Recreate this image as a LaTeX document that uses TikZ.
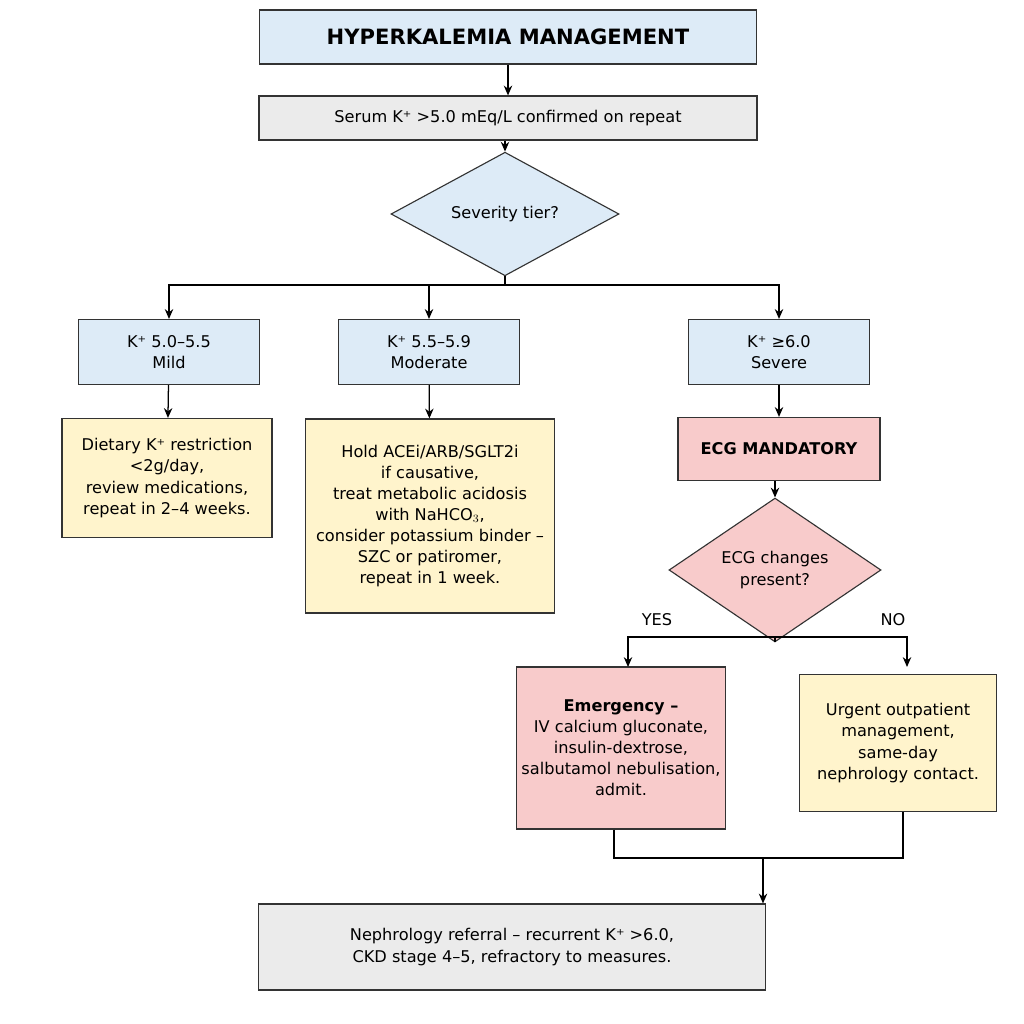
\documentclass[tikz,border=0pt]{standalone}
\usepackage{fontspec}
\setmainfont{DejaVu Sans}
\usetikzlibrary{shapes.geometric,arrows.meta}
\definecolor{bl}{HTML}{DDEBF7}
\definecolor{gr}{HTML}{EBEBEB}
\definecolor{ye}{HTML}{FFF4CC}
\definecolor{pk}{HTML}{F8CBCB}
\begin{document}
\begin{tikzpicture}[x=0.025cm,y=-0.025cm,
 box/.style={draw=black!80,line width=0.8pt,align=center,inner sep=0pt,font=\fontsize{11.5pt}{15pt}\selectfont},
 dia/.style={draw=black!80,line width=0.8pt,diamond,align=center,inner sep=0pt,font=\fontsize{11.5pt}{15pt}\selectfont},
 ar/.style={-{Stealth[length=7pt,width=6pt]},line width=0.9pt},
 ln/.style={line width=0.9pt}]
\useasboundingbox (0,0) rectangle (1024,1024);
\node[box,fill=bl,minimum width=497*0.025cm,minimum height=54*0.025cm,font=\fontsize{15pt}{18pt}\selectfont\bfseries] (t) at (508,37) {HYPERKALEMIA MANAGEMENT};
\node[box,fill=gr,minimum width=498*0.025cm,minimum height=44*0.025cm] (s) at (508,118) {Serum K⁺ >5.0 mEq/L confirmed on repeat};
\node[dia,fill=bl,minimum width=228*0.025cm,minimum height=94*0.025cm] (d) at (505,214) {Severity tier?};
\node[box,fill=bl,minimum width=181*0.025cm,minimum height=65*0.025cm] (mi) at (169,352) {K⁺ 5.0–5.5\\Mild};
\node[box,fill=bl,minimum width=181*0.025cm,minimum height=65*0.025cm] (mo) at (429,352) {K⁺ 5.5–5.9\\Moderate};
\node[box,fill=bl,minimum width=181*0.025cm,minimum height=65*0.025cm] (se) at (779,352) {K⁺ ≥6.0\\Severe};
\node[box,fill=ye,minimum width=210*0.025cm,minimum height=119*0.025cm] (mit) at (167,478) {Dietary K⁺ restriction\\<2g/day,\\review medications,\\repeat in 2–4 weeks.};
\node[box,fill=ye,minimum width=249*0.025cm,minimum height=194*0.025cm] (mot) at (430,516) {Hold ACEi/ARB/SGLT2i\\if causative,\\treat metabolic acidosis\\with NaHCO$_3$,\\consider potassium binder –\\SZC or patiromer,\\repeat in 1 week.};
\node[box,fill=pk,minimum width=202*0.025cm,minimum height=63*0.025cm,font=\fontsize{11.5pt}{15pt}\selectfont\bfseries] (ecg) at (779,449) {ECG MANDATORY};
\node[dia,fill=pk,minimum width=212*0.025cm,minimum height=110*0.025cm] (d2) at (775,570) {ECG changes\\present?};
\node[box,fill=pk,minimum width=209*0.025cm,minimum height=162*0.025cm] (em) at (621,748) {\textbf{Emergency –}\\IV calcium gluconate,\\insulin-dextrose,\\salbutamol nebulisation,\\admit.};
\node[box,fill=ye,minimum width=197*0.025cm,minimum height=137*0.025cm] (ur) at (898,743) {Urgent outpatient\\management,\\same-day\\nephrology contact.};
\node[box,fill=gr,minimum width=507*0.025cm,minimum height=86*0.025cm] (f) at (512,947) {Nephrology referral – recurrent K⁺ >6.0,\\CKD stage 4–5, refractory to measures.};
\draw[ar] (t) -- (s);
\draw[ar] (s.south -| d.north) -- (d);
\coordinate (b) at (505,285);
\draw[ln] (d.south) -- (b);
\draw[ar] (b) -| (mi.north);
\draw[ar] (b) -| (mo.north);
\draw[ar] (b) -| (se.north);
\draw[ar] (mi) -- (mit);
\draw[ar] (mo) -- (mot);
\draw[ar] (se) -- (ecg);
\draw[ar] (ecg.south -| d2.north) -- (d2);
\coordinate (b2) at (775,637);
\draw[ln] (d2.south) -- (b2);
\draw[ar] (b2) -| (628,667) node[pos=0.5,above,xshift=0pt] {};
\draw[ar] (b2) -| (907,667);
\node[font=\fontsize{11.5pt}{14pt}\selectfont] (yes) at (657,620) {YES};
\node[font=\fontsize{11.5pt}{14pt}\selectfont] (no) at (893,620) {NO};
\coordinate (j1) at (614,858);
\coordinate (j2) at (903,858);
\draw[ln] (em.south -| j1) -- (j1) -- (j2) -- (ur.south -| j2);
\draw[ar] (763,858) -- (f.north -| 763,0);
\end{tikzpicture}
\end{document}
